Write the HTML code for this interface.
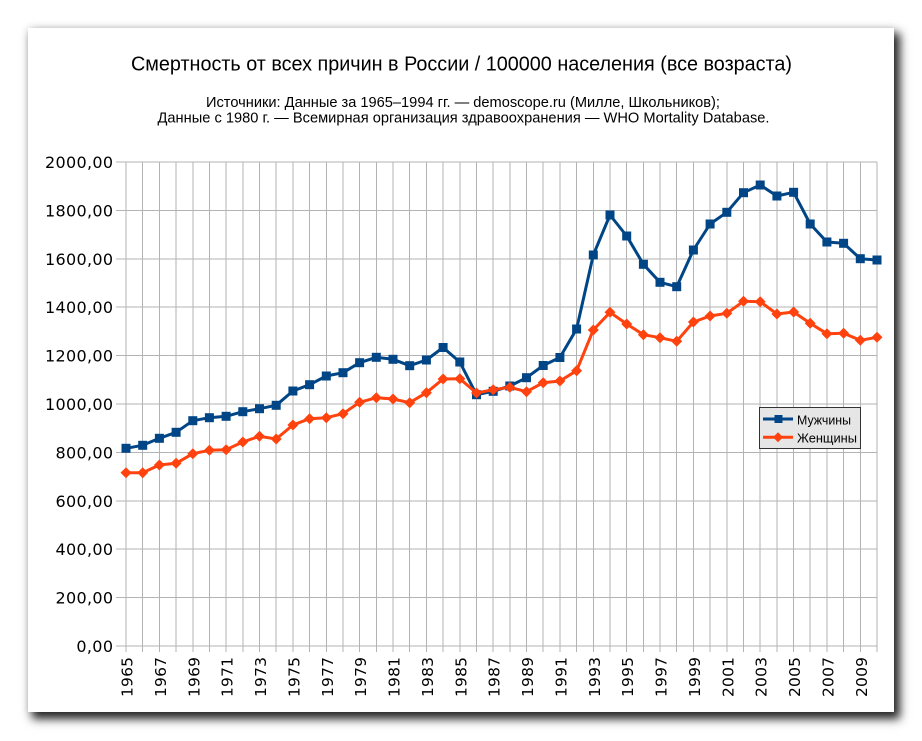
<!DOCTYPE html>
<html><head><meta charset="utf-8"><style>
html,body{margin:0;padding:0;background:#fff;width:922px;height:741px;overflow:hidden}
.card{position:absolute;left:28px;top:28px;width:866px;height:684px;background:#fff;box-shadow:5px 6px 9px 1px rgba(0,0,0,0.85),0 0 8px rgba(0,0,0,0.12)}
svg{position:absolute;left:0;top:0}
text{font-family:"Liberation Sans","Noto Sans CJK SC",sans-serif;fill:#000}
.ax text{font-family:"DejaVu Sans","Liberation Sans",sans-serif}
</style></head><body>
<div class="card"></div>
<svg width="922" height="741" viewBox="0 0 922 741" xmlns="http://www.w3.org/2000/svg">
<defs>
<rect id="sq" x="-4.5" y="-4.5" width="9" height="9" fill="#004586"/>
<path id="dm" d="M0,-5.5 L5.5,0 0,5.5 -5.5,0Z" fill="#ff420e"/>
</defs>
<text x="461.5" y="70.5" font-size="20" text-anchor="middle" textLength="661" lengthAdjust="spacingAndGlyphs">Смертность от всех причин в России / 100000 населения (все возраста)</text>
<text x="463" y="107" font-size="14.5" text-anchor="middle" textLength="514" lengthAdjust="spacingAndGlyphs">Источники: Данные за 1965–1994 гг. — demoscope.ru (Милле, Школьников);</text>
<text x="463.5" y="122.5" font-size="14.5" text-anchor="middle" textLength="612" lengthAdjust="spacingAndGlyphs">Данные с 1980 г. — Всемирная организация здравоохранения — WHO Mortality Database.</text>
<g stroke="#b3b3b3" stroke-width="1" fill="none" shape-rendering="crispEdges">
<path d="M116,162H877M116,210.4H877M116,258.8H877M116,307.2H877M116,355.6H877M116,404H877M116,452.4H877M116,500.8H877M116,549.2H877M116,597.6H877M116,646H877"/>
<path d="M126,162V652M142.7,162V652M159.4,162V652M176.1,162V652M192.8,162V652M209.4,162V652M226.1,162V652M242.8,162V652M259.5,162V652M276.2,162V652M292.9,162V652M309.6,162V652M326.3,162V652M343,162V652M359.6,162V652M376.3,162V652M393,162V652M409.7,162V652M426.4,162V652M443.1,162V652M459.8,162V652M476.5,162V652M493.2,162V652M509.8,162V652M526.5,162V652M543.2,162V652M559.9,162V652M576.6,162V652M593.3,162V652M610,162V652M626.7,162V652M643.4,162V652M660,162V652M676.7,162V652M693.4,162V652M710.1,162V652M726.8,162V652M743.5,162V652M760.2,162V652M776.9,162V652M793.6,162V652M810.2,162V652M826.9,162V652M843.6,162V652M860.3,162V652M877,162V652"/>
</g>
<g class="ax" font-size="16" text-anchor="end" lengthAdjust="spacingAndGlyphs">
<text x="113" y="168" textLength="68">2000,00</text>
<text x="113" y="216.4" textLength="68">1800,00</text>
<text x="113" y="264.8" textLength="68">1600,00</text>
<text x="113" y="313.2" textLength="68">1400,00</text>
<text x="113" y="361.6" textLength="68">1200,00</text>
<text x="113" y="410" textLength="68">1000,00</text>
<text x="113" y="458.4" textLength="57.5">800,00</text>
<text x="113" y="506.8" textLength="57.5">600,00</text>
<text x="113" y="555.2" textLength="57.5">400,00</text>
<text x="113" y="603.6" textLength="57.5">200,00</text>
<text x="113" y="652" textLength="36.6">0,00</text>
</g>
<g class="ax" font-size="15.5" lengthAdjust="spacingAndGlyphs">
<text transform="translate(132.5,697) rotate(-90)" textLength="40">1965</text>
<text transform="translate(165.9,697) rotate(-90)" textLength="40">1967</text>
<text transform="translate(199.3,697) rotate(-90)" textLength="40">1969</text>
<text transform="translate(232.6,697) rotate(-90)" textLength="40">1971</text>
<text transform="translate(266,697) rotate(-90)" textLength="40">1973</text>
<text transform="translate(299.4,697) rotate(-90)" textLength="40">1975</text>
<text transform="translate(332.8,697) rotate(-90)" textLength="40">1977</text>
<text transform="translate(366.1,697) rotate(-90)" textLength="40">1979</text>
<text transform="translate(399.5,697) rotate(-90)" textLength="40">1981</text>
<text transform="translate(432.9,697) rotate(-90)" textLength="40">1983</text>
<text transform="translate(466.3,697) rotate(-90)" textLength="40">1985</text>
<text transform="translate(499.7,697) rotate(-90)" textLength="40">1987</text>
<text transform="translate(533,697) rotate(-90)" textLength="40">1989</text>
<text transform="translate(566.4,697) rotate(-90)" textLength="40">1991</text>
<text transform="translate(599.8,697) rotate(-90)" textLength="40">1993</text>
<text transform="translate(633.2,697) rotate(-90)" textLength="40">1995</text>
<text transform="translate(666.5,697) rotate(-90)" textLength="40">1997</text>
<text transform="translate(699.9,697) rotate(-90)" textLength="40">1999</text>
<text transform="translate(733.3,697) rotate(-90)" textLength="40">2001</text>
<text transform="translate(766.7,697) rotate(-90)" textLength="40">2003</text>
<text transform="translate(800.1,697) rotate(-90)" textLength="40">2005</text>
<text transform="translate(833.4,697) rotate(-90)" textLength="40">2007</text>
<text transform="translate(866.8,697) rotate(-90)" textLength="40">2009</text>
</g>
<polyline fill="none" stroke="#004586" stroke-width="3" stroke-linejoin="round" points="126,448.3 142.7,445.3 159.4,438.3 176.1,432.3 192.8,420.7 209.4,417.7 226.1,416.3 242.8,411.7 259.5,408.7 276.2,405.3 292.9,391 309.6,384.7 326.3,376 343,372.7 359.6,362.7 376.3,357.3 393,359.3 409.7,365.7 426.4,360 443.1,347.5 459.8,362 476.5,394.7 493.2,391.3 509.8,386 526.5,377.7 543.2,365.5 559.9,357.5 576.6,329 593.3,255 610,215 626.7,236 643.4,264.3 660,282.3 676.7,286.7 693.4,250 710.1,224 726.8,212.3 743.5,192.7 760.2,185 776.9,196 793.6,192.3 810.2,224 826.9,242 843.6,243.3 860.3,258.7 877,260"/>
<g>
<use href="#sq" x="126" y="448.3"/><use href="#sq" x="142.7" y="445.3"/><use href="#sq" x="159.4" y="438.3"/><use href="#sq" x="176.1" y="432.3"/><use href="#sq" x="192.8" y="420.7"/><use href="#sq" x="209.4" y="417.7"/><use href="#sq" x="226.1" y="416.3"/><use href="#sq" x="242.8" y="411.7"/><use href="#sq" x="259.5" y="408.7"/><use href="#sq" x="276.2" y="405.3"/><use href="#sq" x="292.9" y="391"/><use href="#sq" x="309.6" y="384.7"/><use href="#sq" x="326.3" y="376"/><use href="#sq" x="343" y="372.7"/><use href="#sq" x="359.6" y="362.7"/><use href="#sq" x="376.3" y="357.3"/><use href="#sq" x="393" y="359.3"/><use href="#sq" x="409.7" y="365.7"/><use href="#sq" x="426.4" y="360"/><use href="#sq" x="443.1" y="347.5"/><use href="#sq" x="459.8" y="362"/><use href="#sq" x="476.5" y="394.7"/><use href="#sq" x="493.2" y="391.3"/><use href="#sq" x="509.8" y="386"/><use href="#sq" x="526.5" y="377.7"/><use href="#sq" x="543.2" y="365.5"/><use href="#sq" x="559.9" y="357.5"/><use href="#sq" x="576.6" y="329"/><use href="#sq" x="593.3" y="255"/><use href="#sq" x="610" y="215"/><use href="#sq" x="626.7" y="236"/><use href="#sq" x="643.4" y="264.3"/><use href="#sq" x="660" y="282.3"/><use href="#sq" x="676.7" y="286.7"/><use href="#sq" x="693.4" y="250"/><use href="#sq" x="710.1" y="224"/><use href="#sq" x="726.8" y="212.3"/><use href="#sq" x="743.5" y="192.7"/><use href="#sq" x="760.2" y="185"/><use href="#sq" x="776.9" y="196"/><use href="#sq" x="793.6" y="192.3"/><use href="#sq" x="810.2" y="224"/><use href="#sq" x="826.9" y="242"/><use href="#sq" x="843.6" y="243.3"/><use href="#sq" x="860.3" y="258.7"/><use href="#sq" x="877" y="260"/>
</g>
<polyline fill="none" stroke="#ff420e" stroke-width="3" stroke-linejoin="round" points="126,472.7 142.7,472.7 159.4,465 176.1,463.3 192.8,453.7 209.4,450.3 226.1,449.7 242.8,442 259.5,436.3 276.2,439 292.9,425 309.6,418.7 326.3,417.7 343,413.7 359.6,402.3 376.3,397.7 393,399 409.7,402.7 426.4,392.7 443.1,379 459.8,378.7 476.5,393 493.2,389.7 509.8,387.3 526.5,391.7 543.2,382.7 559.9,381 576.6,370.7 593.3,330 610,312.3 626.7,324 643.4,334.7 660,337.7 676.7,341.3 693.4,322 710.1,316 726.8,313.3 743.5,301.3 760.2,301.7 776.9,314 793.6,312 810.2,323.3 826.9,333.7 843.6,333.3 860.3,340.3 877,337.3"/>
<g>
<use href="#dm" x="126" y="472.7"/><use href="#dm" x="142.7" y="472.7"/><use href="#dm" x="159.4" y="465"/><use href="#dm" x="176.1" y="463.3"/><use href="#dm" x="192.8" y="453.7"/><use href="#dm" x="209.4" y="450.3"/><use href="#dm" x="226.1" y="449.7"/><use href="#dm" x="242.8" y="442"/><use href="#dm" x="259.5" y="436.3"/><use href="#dm" x="276.2" y="439"/><use href="#dm" x="292.9" y="425"/><use href="#dm" x="309.6" y="418.7"/><use href="#dm" x="326.3" y="417.7"/><use href="#dm" x="343" y="413.7"/><use href="#dm" x="359.6" y="402.3"/><use href="#dm" x="376.3" y="397.7"/><use href="#dm" x="393" y="399"/><use href="#dm" x="409.7" y="402.7"/><use href="#dm" x="426.4" y="392.7"/><use href="#dm" x="443.1" y="379"/><use href="#dm" x="459.8" y="378.7"/><use href="#dm" x="476.5" y="393"/><use href="#dm" x="493.2" y="389.7"/><use href="#dm" x="509.8" y="387.3"/><use href="#dm" x="526.5" y="391.7"/><use href="#dm" x="543.2" y="382.7"/><use href="#dm" x="559.9" y="381"/><use href="#dm" x="576.6" y="370.7"/><use href="#dm" x="593.3" y="330"/><use href="#dm" x="610" y="312.3"/><use href="#dm" x="626.7" y="324"/><use href="#dm" x="643.4" y="334.7"/><use href="#dm" x="660" y="337.7"/><use href="#dm" x="676.7" y="341.3"/><use href="#dm" x="693.4" y="322"/><use href="#dm" x="710.1" y="316"/><use href="#dm" x="726.8" y="313.3"/><use href="#dm" x="743.5" y="301.3"/><use href="#dm" x="760.2" y="301.7"/><use href="#dm" x="776.9" y="314"/><use href="#dm" x="793.6" y="312"/><use href="#dm" x="810.2" y="323.3"/><use href="#dm" x="826.9" y="333.7"/><use href="#dm" x="843.6" y="333.3"/><use href="#dm" x="860.3" y="340.3"/><use href="#dm" x="877" y="337.3"/>
</g>
<rect x="759.5" y="407.5" width="101" height="41" fill="#e6e6e6" stroke="#333" stroke-width="1"/>
<line x1="763" y1="419" x2="793" y2="419" stroke="#004586" stroke-width="3"/>
<rect x="774.5" y="415" width="8" height="8" fill="#004586"/>
<line x1="763" y1="437.3" x2="793" y2="437.3" stroke="#ff420e" stroke-width="3"/>
<path d="M778,432.3 L783,437.3 778,442.3 773,437.3Z" fill="#ff420e"/>
<text x="797" y="424.3" font-size="13" textLength="54" lengthAdjust="spacingAndGlyphs">Мужчины</text>
<text x="797" y="442.5" font-size="13" textLength="60" lengthAdjust="spacingAndGlyphs">Женщины</text>
</svg>
</body></html>
